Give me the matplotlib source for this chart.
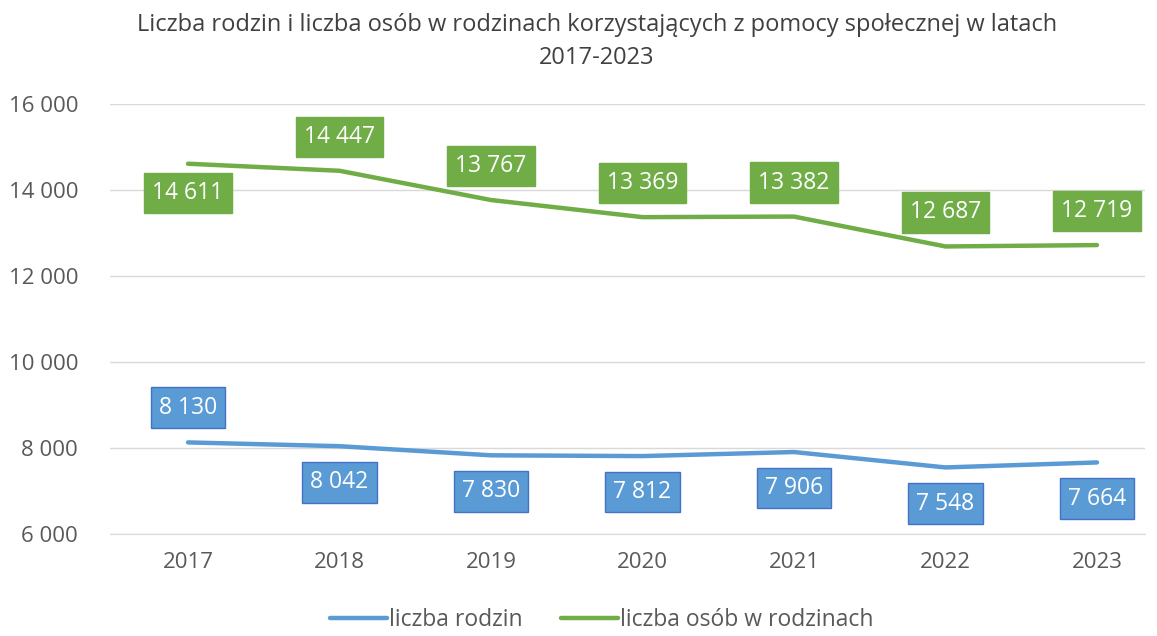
import matplotlib.pyplot as plt

years = ['2017', '2018', '2019', '2020', '2021', '2022', '2023']
rodziny = [8130, 8042, 7830, 7812, 7906, 7548, 7664]
osoby = [14611, 14447, 13767, 13369, 13382, 12687, 12719]

blue = '#5B9BD5'
green = '#70AD47'

plt.rcParams['font.family'] = ['Open Sans', 'DejaVu Sans']

def fmt(v):
    return '{:,}'.format(v).replace(',', ' ')

fig = plt.figure(figsize=(11.57, 6.36), dpi=100)
ax = fig.add_axes([110 / 1157, 1 - 534 / 636, 1035 / 1157, 430 / 636])

x = list(range(len(years)))
ax.plot(x, rodziny, color=blue, lw=3.2, solid_capstyle='round', label='liczba rodzin')
ax.plot(x, osoby, color=green, lw=3.2, solid_capstyle='round', label='liczba osób w rodzinach')

for i, v in enumerate(rodziny):
    dy = 25 if i == 0 else -26
    ax.annotate(fmt(v), (i, v), xytext=(0, dy), textcoords='offset points',
                ha='center', va='center', color='white', fontsize=16.5,
                bbox=dict(boxstyle='square,pad=0.36', fc=blue, ec='#4472C4', lw=1))

for i, v in enumerate(osoby):
    dy = -21 if i == 0 else 24.5
    ax.annotate(fmt(v), (i, v), xytext=(0, dy), textcoords='offset points',
                ha='center', va='center', color='white', fontsize=16.5,
                bbox=dict(boxstyle='square,pad=0.36', fc=green, ec=green, lw=1))

ax.set_ylim(6000, 16000)
ax.set_xlim(-0.515, 6.317)
ax.set_yticks(range(6000, 16001, 2000))
ax.set_yticklabels([fmt(v) for v in range(6000, 16001, 2000)])
ax.set_xticks(x)
ax.set_xticklabels(years)
ax.tick_params(axis='both', length=0, labelsize=16, colors='#595959')
ax.tick_params(axis='y', pad=23)
ax.tick_params(axis='x', pad=13)
ax.grid(axis='y', color='#D9D9D9', lw=1)
ax.set_axisbelow(True)
for s in ['top', 'right', 'left']:
    ax.spines[s].set_visible(False)
ax.spines['bottom'].set_color('#D9D9D9')

fig.text(0.516, 0.935, 'Liczba rodzin i liczba osób w rodzinach korzystających z pomocy społecznej w latach\n2017-2023',
         ha='center', va='center', fontsize=17, color='#404040', linespacing=1.5)

fig.legend(loc='center', bbox_to_anchor=(0.52, 0.025), ncol=2, frameon=False,
           fontsize=16.5, handlelength=2.5, handletextpad=0.05, columnspacing=1.7,
           labelcolor='#595959', borderpad=0.1)

plt.savefig('out.png', dpi=100)
